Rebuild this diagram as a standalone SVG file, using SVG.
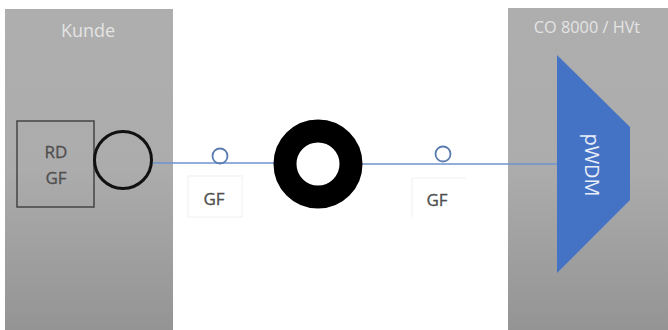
<svg xmlns="http://www.w3.org/2000/svg" width="668" height="330" viewBox="0 0 668 330">
<defs>
<linearGradient id="panelFill" x1="0" y1="0" x2="0" y2="1">
<stop offset="0" stop-color="#aeaeae"/>
<stop offset="0.5" stop-color="#acacac"/>
<stop offset="1" stop-color="#949494"/>
</linearGradient>
<style>
text{font-family:"Open Sans","Liberation Sans",sans-serif;font-size:17px;text-anchor:middle}
.dark{fill:#4f4f4f;font-weight:500;stroke:#4f4f4f;stroke-width:.3}
.light{fill:#e4e4e4}
.panel{fill:url(#panelFill)}
.label{fill:#fff;stroke:#f0f0f0;stroke-width:1}
.small{fill:none;stroke:#5b7cb0;stroke-width:1.8}
</style>
</defs>
<rect width="668" height="330" fill="#fff"/>
<g id="kunde">
<rect class="panel" x="5" y="9" width="168" height="321"/>
<text class="light" x="88" y="37" style="font-size:18px">Kunde</text>
</g>
<g id="co">
<rect class="panel" x="508" y="8" width="160" height="322"/>
<text class="light" x="587" y="33" style="font-size:16.3px">CO 8000 / HVt</text>
</g>
<g id="connectors">
<line x1="153" y1="163" x2="275" y2="163" stroke="#6f93cf" stroke-width="1.6"/>
<line x1="360" y1="164" x2="557" y2="164" stroke="#6f93cf" stroke-width="1.6"/>
</g>
<g id="rd-gf">
<rect x="17" y="121" width="77" height="86" fill="none" stroke="#444" stroke-width="1.5"/>
<text class="dark" x="56" y="158">RD</text>
<text class="dark" x="56" y="184">GF</text>
</g>
<g id="port">
<circle cx="123" cy="160" r="28.5" fill="none" stroke="#111" stroke-width="3"/>
</g>
<g id="gf-left">
<circle class="small" cx="220" cy="156" r="7.5"/>
<rect class="label" x="188" y="176" width="54" height="41"/>
<text class="dark" x="214" y="205">GF</text>
</g>
<g id="spool">
<circle cx="318" cy="164" r="33" fill="none" stroke="#000" stroke-width="23"/>
</g>
<g id="gf-right">
<circle class="small" cx="443" cy="154" r="7.5"/>
<path d="M412 217V178H466" fill="none" stroke="#f0f0f0"/>
<text class="dark" x="437" y="206">GF</text>
</g>
<g id="pwdm">
<polygon points="557,55 630,127 630,200 557,273" fill="#4472c4"/>
<text x="592" y="165" fill="#e8eef8" transform="rotate(90 592 165)" dominant-baseline="central" style="font-size:20px">pWDM</text>
</g>
</svg>
